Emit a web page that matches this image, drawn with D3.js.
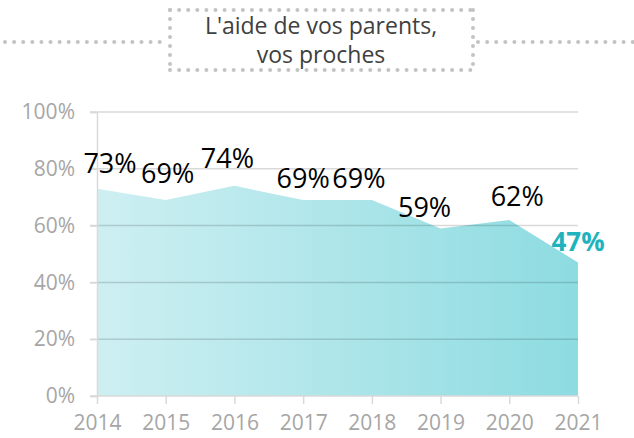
<!DOCTYPE html>
<html>
<head>
<meta charset="utf-8">
<script src="https://cdn.jsdelivr.net/npm/d3@7"></script>
<style>
  body { margin: 0; background: #fff; }
  text { font-family: "Open Sans", sans-serif; }
</style>
</head>
<body>
<script>
var width = 634;
var height = 438;

// data
var years = ['2014', '2015', '2016', '2017', '2018', '2019', '2020', '2021'];
var values = [73, 69, 74, 69, 69, 59, 62, 47];
var yTicks = [0, 20, 40, 60, 80, 100];
var titleLines = ["L'aide de vos parents,", "vos proches"];

// label nudges (layout only)
var labelDx = [13, 2, -7, 0, -13, -16, 8, 0];
var labelDy = [-16, -17, -18, -12, -12, -11, -14, -12];

var svg = d3.select('body')
    .append('svg')
    .attr('width', width)
    .attr('height', height);

var x = d3.scalePoint()
    .domain(years)
    .range([97, 578]);

var y = d3.scaleLinear()
    .domain([0, 100])
    .range([396, 112]);

// gradient for the area
var defs = svg.append('defs');
var grad = defs.append('linearGradient')
    .attr('id', 'fillGrad')
    .attr('gradientUnits', 'userSpaceOnUse')
    .attr('x1', x(years[0])).attr('x2', x(years[years.length - 1]))
    .attr('y1', 0).attr('y2', 0);
grad.append('stop').attr('offset', '0%').attr('stop-color', '#ceeff2');
grad.append('stop').attr('offset', '100%').attr('stop-color', '#8ddce1');

// title box with dotted borders
var dots = svg.append('g').attr('fill', '#c3c3c3');
function dotRow(x0, x1, yy) {
    var pts = d3.range(x0, x1 + 0.1, 9.1);
    dots.selectAll(null)
        .data(pts)
        .enter()
        .append('circle')
        .attr('cx', d => d)
        .attr('cy', yy)
        .attr('r', 2);
}
function dotCol(xx, y0, y1) {
    var pts = d3.range(y0, y1 + 0.1, 9);
    dots.selectAll(null)
        .data(pts)
        .enter()
        .append('circle')
        .attr('cx', xx)
        .attr('cy', d => d)
        .attr('r', 2);
}
dotRow(170, 473, 10);
dotRow(170, 473, 70);
dotCol(170, 10, 70);
dotCol(473, 10, 70);
dotRow(5, 165, 42);
dotRow(478, 634, 42);

svg.append('g')
    .selectAll('text')
    .data(titleLines)
    .enter()
    .append('text')
    .attr('x', 321)
    .attr('y', (d, i) => 34 + i * 29)
    .attr('text-anchor', 'middle')
    .attr('fill', '#404040')
    .style('font-size', '23px')
    .text(d => d);

// area
var area = d3.area()
    .x((d, i) => x(years[i]))
    .y0(y(0))
    .y1(d => y(d));

svg.append('path')
    .datum(values)
    .attr('fill', 'url(#fillGrad)')
    .attr('d', area);

// gridlines on top (translucent so they darken over the fill)
svg.append('g')
    .selectAll('line')
    .data(yTicks.slice(1))
    .enter()
    .append('line')
    .attr('x1', 90)
    .attr('x2', 578)
    .attr('y1', d => y(d))
    .attr('y2', d => y(d))
    .attr('stroke', 'rgba(0,0,0,0.15)')
    .attr('stroke-width', 1.5);

// y axis
var yAxis = svg.append('g')
    .attr('transform', 'translate(97,0)')
    .call(d3.axisLeft(y).tickValues(yTicks).tickSize(7).tickPadding(15)
        .tickFormat(d => d + '%'));
yAxis.select('.domain').attr('stroke', '#d9d9d9').attr('stroke-width', 1.5);
yAxis.selectAll('.tick line').attr('stroke', '#d9d9d9').attr('stroke-width', 1.5);
yAxis.selectAll('.tick text')
    .attr('fill', '#a6a6a6')
    .style('font-size', '21px')
    .style('font-family', '"Open Sans", sans-serif');

// x axis
var xAxis = svg.append('g')
    .attr('transform', 'translate(0,396)')
    .call(d3.axisBottom(x).tickSize(8).tickPadding(11));
xAxis.select('.domain').attr('stroke', '#d9d9d9').attr('stroke-width', 1.5)
    .attr('d', 'M90,0H578');
xAxis.selectAll('.tick line').attr('stroke', '#d9d9d9').attr('stroke-width', 1.5);
xAxis.selectAll('.tick text')
    .attr('fill', '#a6a6a6')
    .style('font-size', '21px')
    .style('font-family', '"Open Sans", sans-serif');

// data labels
var last = values.length - 1;
svg.append('g')
    .selectAll('text')
    .data(values)
    .enter()
    .append('text')
    .attr('x', (d, i) => x(years[i]) + labelDx[i])
    .attr('y', (d, i) => y(d) + labelDy[i])
    .attr('text-anchor', 'middle')
    .attr('fill', (d, i) => i === last ? '#1fb3bd' : '#000')
    .style('font-weight', (d, i) => i === last ? 'bold' : 'normal')
    .style('font-size', (d, i) => i === last ? '26px' : '27px')
    .text(d => d + '%');
</script>
</body>
</html>
